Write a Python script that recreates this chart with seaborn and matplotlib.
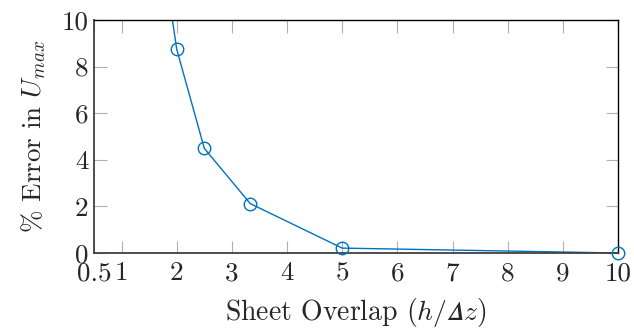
import matplotlib
matplotlib.use("Agg")
import matplotlib.pyplot as plt
import seaborn as sns
import pandas as pd

# Data (h/Δz vs % error in U_max); first point lies above the visible range
overlap = [1.667, 2.0, 2.5, 3.333, 5.0, 10.0]
error = [14.1, 8.74, 4.49, 2.12, 0.21, 0.0]
xticks = [0.5, 1, 2, 3, 4, 5, 6, 7, 8, 9, 10]
xticklabels = ["0.5", "1", "2", "3", "4", "5", "6", "7", "8", "9", "10"]
yticks = [0, 2, 4, 6, 8, 10]

sns.set_style("white")
plt.rcParams["font.family"] = ["cmr10"]
plt.rcParams["mathtext.fontset"] = "cm"
plt.rcParams["axes.formatter.use_mathtext"] = True

blue = "#0072BD"
df = pd.DataFrame({"overlap": overlap, "error": error})

fig = plt.figure(figsize=(6.34, 3.31), dpi=100)
ax = fig.add_axes([94 / 634, 1 - 253 / 331, (618 - 94) / 634, (253 - 20) / 331])

sns.lineplot(data=df, x="overlap", y="error", ax=ax, color=blue, lw=1.0, sort=False)
vis = df[df["error"] <= 10]
ax.plot(vis["overlap"], vis["error"], ls="none", marker="o", ms=9, mfc="none",
        mec=blue, mew=1.0, clip_on=False, zorder=5)

ax.set_xlim(0.5, 10)
ax.set_ylim(0, 10)
ax.set_xticks(xticks)
ax.set_xticklabels(xticklabels)
ax.set_yticks(yticks)
ax.set_yticklabels([str(v) for v in yticks])

ax.tick_params(direction="in", length=9, width=0.8, color="#b0b0b0",
               top=True, right=True, bottom=True, left=True,
               labelsize=19.5)
ax.tick_params(axis="x", pad=6)
ax.tick_params(axis="y", pad=4)
for lab in ax.get_xticklabels() + ax.get_yticklabels():
    lab.set_fontfamily("cmr10")

for side in ["left", "bottom"]:
    ax.spines[side].set_color("#404040")
    ax.spines[side].set_linewidth(1.3)
for side in ["top", "right"]:
    ax.spines[side].set_color("black")
    ax.spines[side].set_linewidth(1.0)

ax.set_xlabel("Sheet Overlap ($h/\U0001D6E5z$)", fontsize=20, labelpad=8)
ax.set_ylabel(r"% Error in $U_{max}$", fontsize=19.5, labelpad=10)

fig.savefig("out.png", dpi=100)
